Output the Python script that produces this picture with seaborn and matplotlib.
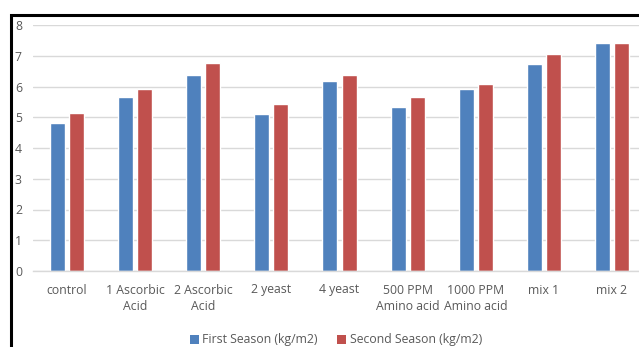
import matplotlib
matplotlib.use("Agg")
import matplotlib.pyplot as plt
import seaborn as sns
import pandas as pd
from matplotlib.patches import Rectangle, Patch

categories = ["control", "1 Ascorbic\nAcid", "2 Ascorbic\nAcid", "2 yeast", "4 yeast",
              "500 PPM\nAmino acid", "1000 PPM\nAmino acid", "mix 1", "mix 2"]
first_season = [4.81, 5.65, 6.38, 5.12, 6.17, 5.32, 5.92, 6.73, 7.42]
second_season = [5.14, 5.91, 6.78, 5.42, 6.38, 5.65, 6.08, 7.06, 7.42]
series_names = ["First Season (kg/m2)", "Second Season (kg/m2)"]
colors = ["#4F81BD", "#C0504D"]
y_ticks = [0, 1, 2, 3, 4, 5, 6, 7, 8]

df = pd.DataFrame({
    "cat": categories * 2,
    "value": first_season + second_season,
    "series": [series_names[0]] * len(categories) + [series_names[1]] * len(categories),
})

sns.set_theme(style="white")
plt.rcParams["font.family"] = ["Open Sans", "DejaVu Sans"]
txt = "#595959"

fig = plt.figure(figsize=(6.39, 3.47), dpi=100)
ax = fig.add_axes([33 / 639, 1 - 271 / 347, (646 - 33) / 639, (271 - 25) / 347])

sns.barplot(data=df, x="cat", y="value", hue="series", palette=colors,
            width=0.56, gap=0.21, ax=ax, legend=False, saturation=1,
            order=categories, hue_order=series_names)

ax.set_xlim(-0.5, len(categories) - 0.5)
ax.set_ylim(0, 8)
ax.set_yticks(y_ticks)
ax.set_xlabel("")
ax.set_ylabel("")
ax.yaxis.grid(True, color="#D9D9D9", linewidth=1)
ax.set_axisbelow(True)
for s in ["top", "right", "left"]:
    ax.spines[s].set_visible(False)
ax.spines["bottom"].set_color("#D9D9D9")
ax.spines["bottom"].set_linewidth(1)
ax.tick_params(axis="both", length=0, colors=txt, labelsize=8.8)
ax.tick_params(axis="y", pad=8)
ax.tick_params(axis="x", pad=9)
for lab in ax.get_xticklabels():
    lab.set_linespacing(1.3)

handles = [Patch(facecolor=c, edgecolor="none") for c in colors]
fig.legend(handles, series_names, loc="center", bbox_to_anchor=(336 / 639, 1 - 340 / 347),
           ncol=2, frameon=False, fontsize=8.8, handlelength=0.7, handleheight=0.7,
           handletextpad=0.3, columnspacing=1.6, labelcolor=txt)

fig.patches.append(Rectangle((11 / 639, -0.2), 1.2, 1 - 15 / 347 + 0.2,
                             transform=fig.transFigure, fill=False,
                             edgecolor="black", linewidth=2.2, zorder=10))

fig.savefig("out.png", dpi=100)
